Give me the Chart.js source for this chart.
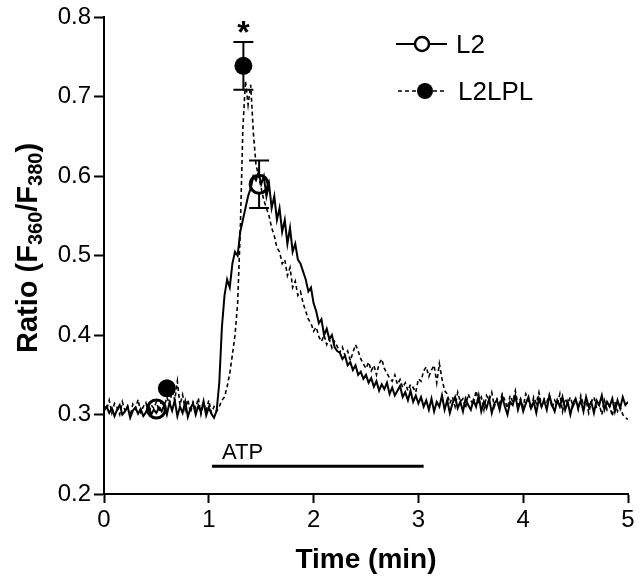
<!DOCTYPE html>
<html lang="en">
<head>
<meta charset="UTF-8" />
<title>Ratio (F360/F380) vs time</title>
<script src="https://cdn.jsdelivr.net/npm/chart.js@4.4.1/dist/chart.umd.min.js"></script>
<style>
  html, body { margin: 0; padding: 0; background: #fff; }
</style>
</head>
<body>
<canvas id="myChart" width="640" height="583"></canvas>
<script>
// traces sampled every 0.025 min, 0 .. 5 min
var sampleStep = 0.025;

var l2Trace = [
  0.305,0.31,0.302,0.308,0.298,0.306,0.312,0.3,0.304,0.31,
  0.296,0.305,0.309,0.301,0.307,0.298,0.303,0.311,0.3,0.306,
  0.302,0.309,0.304,0.312,0.3,0.315,0.305,0.318,0.298,0.31,
  0.302,0.316,0.297,0.308,0.314,0.3,0.311,0.303,0.317,0.299,
  0.309,0.301,0.296,
  0.305,0.34,0.41,0.45,0.47,0.46,0.49,0.505,0.5,0.53,
  0.545,0.56,0.575,0.585,0.6,0.595,0.605,0.59,0.6,0.575,
  0.59,0.56,0.575,0.545,0.56,0.53,0.545,0.515,0.535,0.505,
  0.515,0.495,0.49,0.48,0.47,0.455,0.46,0.44,0.43,0.415,
  0.42,0.4,0.408,0.395,0.4,0.385,0.38,0.378,0.37,0.374,
  0.362,0.366,0.356,0.362,0.35,0.354,0.345,0.35,0.34,0.346,
  0.335,0.342,0.33,0.338,0.332,0.34,0.326,0.334,0.324,0.33,
  0.336,0.322,0.328,0.318,0.33,0.316,0.324,0.314,
  0.322,0.31,0.318,0.306,0.32,0.304,0.316,0.31,0.324,0.306,
  0.318,0.302,0.314,0.322,0.308,0.316,0.304,0.32,0.312,0.306,
  0.318,0.31,0.324,0.304,0.316,0.308,0.32,0.302,0.314,0.318,
  0.306,0.322,0.31,0.3,0.316,0.312,0.324,0.306,0.318,0.304,
  0.314,0.322,0.308,0.316,0.302,0.32,0.31,0.318,0.306,0.324,
  0.312,0.304,0.318,0.31,0.322,0.306,0.316,0.3,0.314,0.32,
  0.308,0.318,0.304,0.322,0.31,0.316,0.302,0.318,0.312,0.324,
  0.306,0.316,0.31,0.32,0.304,0.318,0.308,0.322,0.312,0.316
];

var lplTrace = [
  0.312,0.306,0.318,0.302,0.314,0.309,0.3,0.316,0.305,0.311,
  0.298,0.313,0.307,0.319,0.303,0.31,0.315,0.301,0.312,0.308,
  0.316,0.304,0.318,0.31,0.322,0.313,0.33,0.318,0.342,0.312,
  0.325,0.306,0.319,0.302,0.316,0.308,0.321,0.3,0.314,0.305,
  0.318,0.302,0.31,
  0.304,0.31,0.318,0.322,0.335,0.352,0.375,0.4,0.44,0.53,
  0.66,0.72,0.69,0.715,0.655,0.615,0.6,0.585,0.57,0.56,
  0.55,0.535,0.525,0.51,0.505,0.49,0.495,0.475,0.485,0.46,
  0.468,0.45,0.455,0.44,0.43,0.42,0.415,0.405,0.41,0.398,
  0.392,0.4,0.388,0.395,0.384,0.392,0.386,0.378,0.385,0.374,
  0.38,0.368,0.378,0.388,0.38,0.37,0.364,0.358,0.366,0.355,
  0.362,0.35,0.364,0.37,0.358,0.352,0.346,0.342,0.35,0.338,
  0.344,0.334,0.34,0.33,0.338,0.334,0.328,0.345,0.342,0.355,
  0.36,0.348,0.356,0.362,0.34,0.364,0.345,0.33,
  0.326,0.314,0.322,0.31,0.328,0.316,0.32,0.308,0.326,0.318,
  0.312,0.33,0.316,0.322,0.306,0.324,0.318,0.328,0.31,0.32,
  0.314,0.326,0.318,0.308,0.324,0.316,0.33,0.312,0.32,0.31,
  0.326,0.318,0.306,0.322,0.314,0.328,0.31,0.32,0.316,0.324,
  0.308,0.318,0.312,0.326,0.304,0.32,0.314,0.322,0.31,0.318,
  0.306,0.324,0.312,0.318,0.302,0.316,0.322,0.308,0.314,0.3,
  0.318,0.306,0.312,0.298,0.316,0.304,0.31,0.3,0.296,0.294
];

// mean points with SEM
var l2MarkTime = [0.5, 1.48];
var l2MarkRatio = [0.307, 0.59];
var l2MarkSem = [0, 0.03];
var lplMarkTime = [0.6, 1.33];
var lplMarkRatio = [0.333, 0.739];
var lplMarkSem = [0, 0.03];

// ATP application
var atpStart = 1.03;
var atpEnd = 3.05;
var atpLevel = 0.235;

var xTicks = [0, 1, 2, 3, 4, 5];
var yTicks = [0.2, 0.3, 0.4, 0.5, 0.6, 0.7, 0.8];

var FONT = "'Liberation Sans', Arial, Helvetica, sans-serif";
Chart.defaults.font.family = FONT;
Chart.defaults.color = '#000';

function toPoints(ts, vs) {
  return vs.map(function (v, i) { return { x: ts ? ts[i] : i * sampleStep, y: v }; });
}

// error bars + asterisk + ATP label, drawn through the scales
var extras = {
  id: 'extras',
  beforeDatasetsDraw: function (chart) {
    var ctx = chart.ctx, xs = chart.scales.x, ys = chart.scales.y;
    ctx.save();
    ctx.strokeStyle = '#000';
    ctx.lineWidth = 2;
    function bars(ts, vs, es) {
      for (var i = 0; i < ts.length; i++) {
        if (!es[i]) continue;
        var px = xs.getPixelForValue(ts[i]);
        var top = ys.getPixelForValue(vs[i] + es[i]);
        var bot = ys.getPixelForValue(vs[i] - es[i]);
        ctx.beginPath();
        ctx.moveTo(px, top); ctx.lineTo(px, bot);
        ctx.moveTo(px - 10, top); ctx.lineTo(px + 10, top);
        ctx.moveTo(px - 10, bot); ctx.lineTo(px + 10, bot);
        ctx.stroke();
      }
    }
    bars(l2MarkTime, l2MarkRatio, l2MarkSem);
    bars(lplMarkTime, lplMarkRatio, lplMarkSem);
    ctx.restore();
  },
  afterDatasetsDraw: function (chart) {
    var ctx = chart.ctx, xs = chart.scales.x, ys = chart.scales.y;
    ctx.save();
    ctx.fillStyle = '#000';
    // significance star over the L2LPL peak
    ctx.font = 'bold 32px ' + FONT;
    ctx.textAlign = 'center';
    ctx.textBaseline = 'alphabetic';
    ctx.fillText('*', xs.getPixelForValue(lplMarkTime[1]),
      ys.getPixelForValue(lplMarkRatio[1] + lplMarkSem[1]) + 1);
    // ATP label
    ctx.font = '22px ' + FONT;
    ctx.textAlign = 'left';
    ctx.fillText('ATP', xs.getPixelForValue(atpStart) + 10, ys.getPixelForValue(atpLevel) - 7);
    ctx.restore();
  },
  afterDraw: function (chart) {
    var ctx = chart.ctx;
    ctx.save();
    // legend
    ctx.strokeStyle = '#000';
    ctx.fillStyle = '#000';
    ctx.lineWidth = 2;
    ctx.beginPath(); ctx.moveTo(396, 44); ctx.lineTo(447, 44); ctx.stroke();
    ctx.beginPath(); ctx.arc(422, 44, 7, 0, Math.PI * 2);
    ctx.fillStyle = '#fff'; ctx.fill();
    ctx.lineWidth = 2.5; ctx.stroke();
    ctx.lineWidth = 1.6;
    ctx.setLineDash([4, 3]);
    ctx.beginPath(); ctx.moveTo(398, 91); ctx.lineTo(447, 91); ctx.stroke();
    ctx.setLineDash([]);
    ctx.fillStyle = '#000';
    ctx.beginPath(); ctx.arc(425, 91, 8, 0, Math.PI * 2); ctx.fill();
    ctx.font = '26px ' + FONT;
    ctx.textAlign = 'left';
    ctx.textBaseline = 'alphabetic';
    ctx.fillText('L2', 456, 53);
    ctx.fillText('L2LPL', 458, 100);

    // y title with subscripts
    var parts = [['Ratio (F', 0], ['360', 1], ['/F', 0], ['380', 1], [')', 0]];
    var big = 'bold 29px ' + FONT, small = 'bold 20px ' + FONT;
    var total = 0;
    parts.forEach(function (p) { ctx.font = p[1] ? small : big; total += ctx.measureText(p[0]).width; });
    ctx.translate(29, 248);
    ctx.rotate(-Math.PI / 2);
    ctx.textBaseline = 'middle';
    var x = -total / 2;
    parts.forEach(function (p) {
      ctx.font = p[1] ? small : big;
      ctx.fillText(p[0], x, p[1] ? 7 : 0);
      x += ctx.measureText(p[0]).width;
    });
    ctx.restore();
  }
};

new Chart('myChart', {
  type: 'scatter',
  data: {
    datasets: [
      {
        label: 'L2',
        data: toPoints(null, l2Trace),
        showLine: true,
        borderColor: '#000',
        borderWidth: 2,
        pointRadius: 0,
        tension: 0
      },
      {
        label: 'L2LPL',
        data: toPoints(null, lplTrace),
        showLine: true,
        borderColor: '#000',
        borderWidth: 1.6,
        borderDash: [4, 3],
        pointRadius: 0,
        tension: 0
      },
      {
        label: 'ATP',
        data: [{ x: atpStart, y: atpLevel }, { x: atpEnd, y: atpLevel }],
        showLine: true,
        borderColor: '#000',
        borderWidth: 3,
        pointRadius: 0
      },
      {
        label: 'L2LPL mean',
        data: toPoints(lplMarkTime, lplMarkRatio),
        pointRadius: 9,
        pointBackgroundColor: '#000',
        pointBorderColor: '#000',
        pointBorderWidth: 0
      },
      {
        label: 'L2 mean',
        data: toPoints(l2MarkTime, l2MarkRatio),
        pointRadius: 9,
        pointBackgroundColor: '#fff',
        pointBorderColor: '#000',
        pointBorderWidth: 3
      }
    ]
  },
  plugins: [extras],
  options: {
    responsive: false,
    animation: false,
    devicePixelRatio: 1,
    layout: { padding: { top: 14, right: 10, left: 0, bottom: 0 } },
    plugins: {
      legend: { display: false },
      tooltip: { enabled: false }
    },
    scales: {
      x: {
        type: 'linear',
        min: 0,
        max: 5,
        afterBuildTicks: function (s) { s.ticks = xTicks.map(function (v) { return { value: v }; }); },
        afterFit: function (s) { s.height = 89; },
        ticks: { font: { size: 24 }, color: '#000', padding: 3, maxRotation: 0 },
        grid: { drawOnChartArea: false, tickLength: 9, tickWidth: 2, tickColor: '#000' },
        border: { display: true, width: 2, color: '#000' },
        title: {
          display: true,
          text: 'Time (min)',
          color: '#000',
          font: { size: 28, weight: 'bold' },
          padding: { top: 0, bottom: 6 }
        }
      },
      y: {
        type: 'linear',
        min: 0.2,
        max: 0.8,
        afterBuildTicks: function (s) { s.ticks = yTicks.map(function (v) { return { value: v }; }); },
        afterFit: function (s) { s.width = 104; },
        ticks: {
          font: { size: 24 },
          color: '#000',
          padding: 3,
          callback: function (v) { return v.toFixed(1); }
        },
        grid: { drawOnChartArea: false, tickLength: 10, tickWidth: 2, tickColor: '#000' },
        border: { display: true, width: 2, color: '#000' }
      }
    }
  }
});
</script>
</body>
</html>
